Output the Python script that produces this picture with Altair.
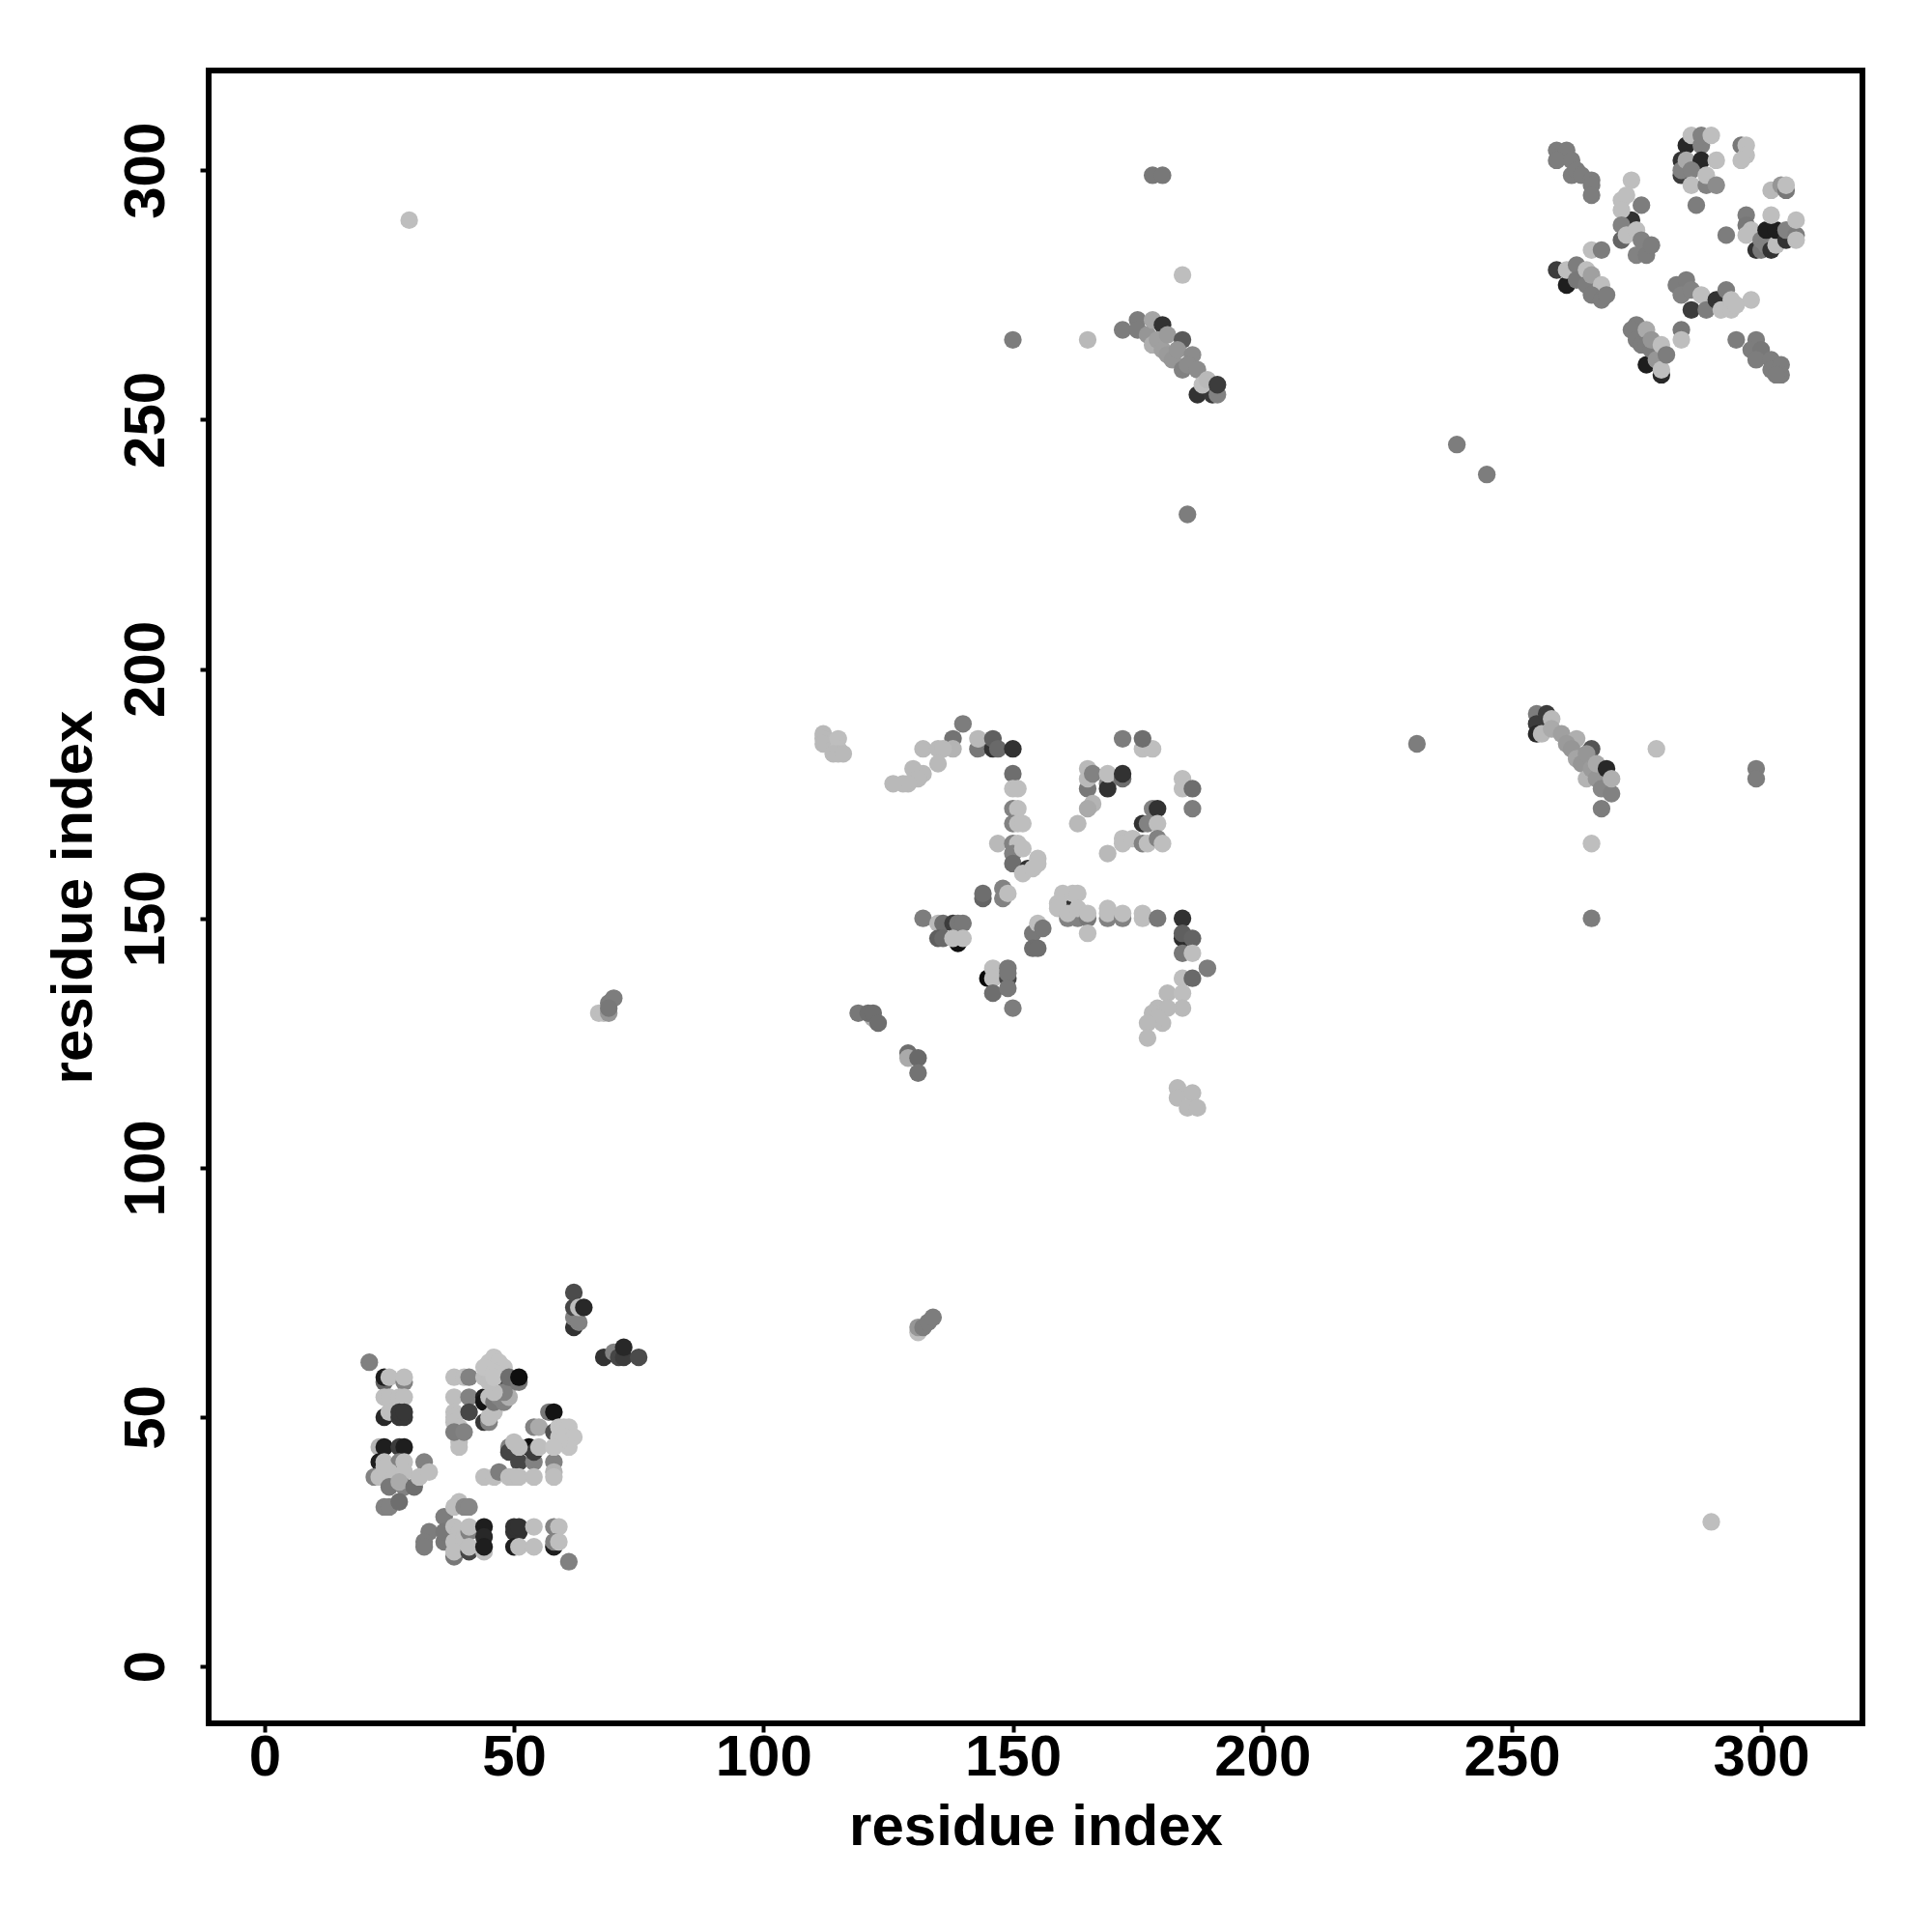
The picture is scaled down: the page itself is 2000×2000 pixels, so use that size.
import altair as alt
import pandas as pd

cluster_low_left = [
 (21,61,128),(24,57,100),(24,58,30),(25,58,190),(28,57,130),(28,58,190),(24,54,190),(25,54,190),(27,54,190),(28,54,190),
 (24,50,40),(25,51,190),(27,50,55),(28,50,55),(27,51,55),(28,51,55),
 (23,44,180),(24,44,30),(27,44,60),(28,44,30),(23,41,30),(24,41,190),(27,41,130),(28,41,190),(22,38,130),(23,38,190),(25,39,190),
 (24,40,190),(26,38,190),(28,39,190),(25,36,120),(28,36,130),(27,37,170),(30,36,110),(32,41,130),(31,38,190),(33,39,190),
 (24,32,130),(25,32,130),(27,33,110),
 (36,30,125),(33,27,125),(32,25,125),(32,24,125),(36,25,120),(36,27,120),(38,22,120),(39,33,190),(38,32,190),(40,32,135),(41,32,135),
 (38,28,190),(39,27,190),(38,25,190),(40,26,190),(38,23,190),(41,27,130),(41,28,190),(41,23,70),(41,24,190),(44,23,190),
 (44,28,30),(44,26,40),(44,24,30),(50,27,50),(51,27,50),(50,28,50),(51,28,50),(50,24,30),(51,24,190),(54,28,190),(54,24,190),
 (58,28,130),(59,28,190),(58,24,30),(58,25,130),(59,25,190),(61,21,128),
]
cluster_low_mid = [
 (38,58,190),(40,58,190),(41,58,130),(38,54,190),(41,54,130),(38,51,190),(38,50,190),(38,49,190),(39,48,190),(39,45,190),(39,44,190),(38,47,125),(40,47,130),
 (44,49,55),(45,49,130),(41,51,70),(44,54,30),(44,53,20),(45,54,190),(45,50,190),(46,51,190),
 (48,56,70),(50,57,120),(46,53,120),(48,53,130),(47,54,130),(49,54,175),(48,55,130),(46,55,190),
 (44,58,190),(45,57,190),(46,62,195),(45,61,195),(47,61,195),(44,60,195),(48,60,195),(46,59,195),(46,58,195),(49,58,110),(51,57,120),(51,58,15),
 (49,44,130),(49,43,70),(51,41,70),(54,41,130),(58,41,130),(53,44,15),(54,43,60),(55,44,190),(51,44,190),(50,45,190),(54,48,130),(55,48,170),(57,51,120),(58,51,20),(58,47,80),
 (44,38,190),(46,38,190),(47,39,125),(49,38,190),(50,38,190),(51,38,190),(54,38,190),(58,39,180),(58,38,190),
 (59,48,195),(60,48,195),(61,48,195),(59,46,195),(60,46,195),(62,46,195),(61,44,195),(59,45,195),(58,44,195),
 (62,68,50),(62,70,130),(62,72,70),(62,75,75),(63,69,130),(63,72,190),(64,72,40),
 (68,62,50),(70,63,130),(71,62,70),(72,62,60),(72,64,40),(75,62,75),
 (67,131,190),(68,131,190),(69,131,150),(69,133,125),(70,134,125),(69,132,120),
 (131,67,190),(131,68,150),(132,68,125),(133,69,125),(134,70,125),
]
cluster_mid_a = [
 (112,187,185),(112,186,185),(112,185,185),(114,184,185),(115,186,190),(115,184,190),(114,183,185),(115,183,185),(116,183,185),
 (140,189,125),(138,186,115),(138,184,180),(132,184,185),(135,184,185),(136,184,185),(135,181,185),(132,179,185),(130,180,185),(131,178,185),(129,177,185),(128,177,185),(126,177,185),
 (143,184,120),(143,186,185),(146,184,50),(146,186,95),(147,184,105),(150,184,50),
 (150,179,110),(150,176,190),(151,176,190),(150,172,130),(151,172,190),(150,169,130),(151,169,190),(152,169,190),
 (147,165,185),(150,165,130),(151,165,190),(150,163,130),(150,161,110),(152,164,190),(153,160,50),(152,159,190),(154,160,190),(155,162,190),(155,161,190),
 (144,154,100),(144,155,110),(148,156,130),(148,154,130),(149,155,190),
 (172,186,125),(176,184,190),(178,184,190),(176,186,110),
 (165,176,120),(165,180,185),(165,178,185),(166,179,130),(169,177,130),(169,176,50),(169,179,190),(172,178,110),(172,179,50),
 (166,173,180),(165,172,170),(163,169,185),
 (178,172,130),(179,172,50),(176,169,50),(177,169,130),(179,169,190),(172,166,190),(172,165,190),(174,166,190),(176,165,130),(177,165,190),(179,166,130),(180,165,190),(169,163,185),
 (184,178,190),(184,176,190),(186,176,110),(186,172,125),
]
cluster_mid_b = [
 (132,150,125),(135,149,185),(136,149,110),(138,149,60),(139,149,120),(140,149,120),(135,146,95),(136,146,105),(139,145,15),(138,146,190),(140,146,190),
 (145,138,10),(146,140,190),(146,138,190),(149,140,120),(149,138,70),(149,139,120),(146,135,110),(149,136,120),(150,132,125),
 (154,147,120),(155,149,190),(156,148,120),(154,144,110),(155,144,110),
 (160,153,50),(159,153,190),(159,152,190),(160,155,190),(162,155,190),(163,155,190),(161,150,130),(163,150,130),(161,151,190),(163,152,190),(165,150,120),(165,151,190),(165,147,190),
 (169,150,130),(169,152,190),(169,151,190),(172,150,130),(172,151,190),(176,151,190),(176,150,190),(179,150,120),(184,150,50),
 (184,146,45),(184,147,95),(186,146,100),(184,143,120),(186,143,190),(189,140,125),(184,138,190),(186,138,105),
 (181,135,185),(184,135,190),(184,132,185),(179,132,185),(181,132,185),(180,129,185),(178,131,185),(179,130,185),(177,129,185),(177,126,185),
 (183,116,185),(183,114,185),(186,115,185),(185,112,185),(187,112,185),
 (119,131,120),(122,130,170),(121,131,110),(122,131,110),(123,129,110),(129,123,110),(129,122,170),(131,122,105),(131,119,115),
]
cluster_top = [
 (259,304,125),(260,303,125),(261,304,125),(259,302,125),(262,302,125),(262,299,125),(263,300,125),(264,299,125),(266,298,125),(266,297,125),(266,295,125),
 (274,298,190),(274,290,50),(272,294,190),(273,295,190),(272,292,190),(276,293,125),(272,289,130),(272,286,100),(273,287,190),(275,288,190),(275,283,130),(276,286,130),(277,283,125),(278,285,125),
 (266,284,190),(268,284,125),
 (259,280,60),(261,277,30),(261,280,190),(263,281,125),(263,278,120),(265,280,190),(265,277,125),(266,279,160),(268,277,190),(266,275,125),(268,274,125),(269,275,125),
 (285,305,40),(284,302,50),(284,299,60),(284,300,130),(285,302,170),(286,307,190),(288,305,130),(288,307,130),(290,307,190),(288,302,40),(291,302,190),(286,300,130),(286,297,190),(289,297,130),(289,299,190),(291,297,140),
 (287,293,125),(296,305,120),(297,305,190),(297,303,190),(296,302,190),
 (302,296,185),(304,297,150),(305,296,120),(305,297,190),
 (297,291,125),(297,289,120),(298,288,190),(297,287,190),(299,284,50),(300,284,120),(300,286,130),(301,285,130),(302,284,50),(303,285,190),(301,288,30),(303,288,30),(302,291,190),(305,286,50),(305,288,130),(307,287,125),(307,286,190),(307,290,190),(293,287,125),
 (283,277,125),(285,278,125),(284,275,130),(286,276,130),(286,272,60),(288,275,190),(289,272,125),(291,274,50),(293,276,125),(292,272,190),(294,272,190),(294,274,190),(295,273,190),(298,274,190),
 (275,269,125),(274,268,125),(275,266,125),(276,265,125),(277,268,170),(277,265,125),(277,261,30),(278,264,125),(280,259,40),(278,266,150),(279,262,150),(280,265,190),(280,260,190),(281,263,125),
 (284,268,120),(284,266,190),(295,266,125),(299,266,125),(298,264,125),(300,264,120),(299,262,125),(302,262,125),(302,260,125),(304,261,125),(304,259,125),(303,259,125),
]
cluster_diag = [
 (172,268,125),(175,270,125),(175,268,125),(177,267,150),(178,270,165),(180,269,50),(178,265,175),(179,266,160),(180,264,160),(181,267,155),(181,263,155),(184,266,90),(182,262,150),(183,264,150),(186,263,140),(184,260,130),(185,261,140),(187,260,140),(187,255,50),(190,255,55),(188,257,190),(189,258,185),(191,255,130),(191,257,60),
 (255,191,125),(255,189,60),(255,187,40),(257,191,60),(256,187,185),(258,190,185),(258,188,170),(260,187,160),(263,186,175),(261,185,155),(262,184,150),(266,184,85),(263,182,165),(264,181,150),(265,183,150),(265,178,180),(266,180,155),(267,178,150),(268,176,135),(270,175,130),(267,181,170),(269,180,40),(270,178,175),(268,172,125),(266,165,190),(279,184,190),
]
cluster_single = [
 (29,290,190),(290,29,190),(150,266,125),(165,266,185),(178,299,120),(180,299,120),(184,279,190),(185,231,125),(239,245,125),(245,239,125),(231,185,125),(299,180,125),(299,178,125),(266,150,125),
]

clusters = [cluster_low_left, cluster_low_mid, cluster_mid_a, cluster_mid_b, cluster_top, cluster_diag, cluster_single]
rows = [{"x": x, "y": y, "shade": f"#{g:02x}{g:02x}{g:02x}", "n": i}
        for i, (x, y, g) in enumerate(p for c in clusters for p in c)]
df = pd.DataFrame(rows)
ticks = [0, 50, 100, 150, 200, 250, 300]
FONT = "Liberation Sans"

chart = alt.Chart(df).mark_circle(size=335, opacity=1).encode(
    x=alt.X("x:Q", scale=alt.Scale(domain=[-11.2, 320.3], nice=False, zero=False),
            axis=alt.Axis(values=ticks, title="residue index", grid=False, domain=False,
                          tickSize=9, tickWidth=4, tickColor="black", labelFontSize=60, labelFont=FONT,
                          labelFontWeight="bold", labelColor="black", labelPadding=-3, labelOverlap=False, labelFlush=False,
                          titleFontSize=60, titleFont=FONT, titleFontWeight="bold", titleColor="black", titlePadding=13)),
    y=alt.Y("y:Q", scale=alt.Scale(domain=[-11.4, 320], nice=False, zero=False),
            axis=alt.Axis(values=ticks, title="residue index", grid=False, domain=False,
                          tickSize=9, tickWidth=4, tickColor="black", labelFontSize=60, labelFont=FONT,
                          labelFontWeight="bold", labelColor="black", labelAngle=270, labelAlign="center",
                          labelBaseline="alphabetic", labelPadding=38, labelOverlap=False, labelFlush=False,
                          titleFontSize=60, titleFont=FONT, titleFontWeight="bold", titleColor="black", titlePadding=14)),
    color=alt.Color("shade:N", scale=None),
    order=alt.Order("n:Q"),
).properties(
    width=1712, height=1711,
    autosize=alt.AutoSizeParams(type="none"),
    padding={"left": 208, "top": 65, "right": 60, "bottom": 200},
).configure_view(stroke="black", strokeWidth=6, fill="white")

chart.save("out.html", embed_options={"renderer": "svg", "actions": False})
